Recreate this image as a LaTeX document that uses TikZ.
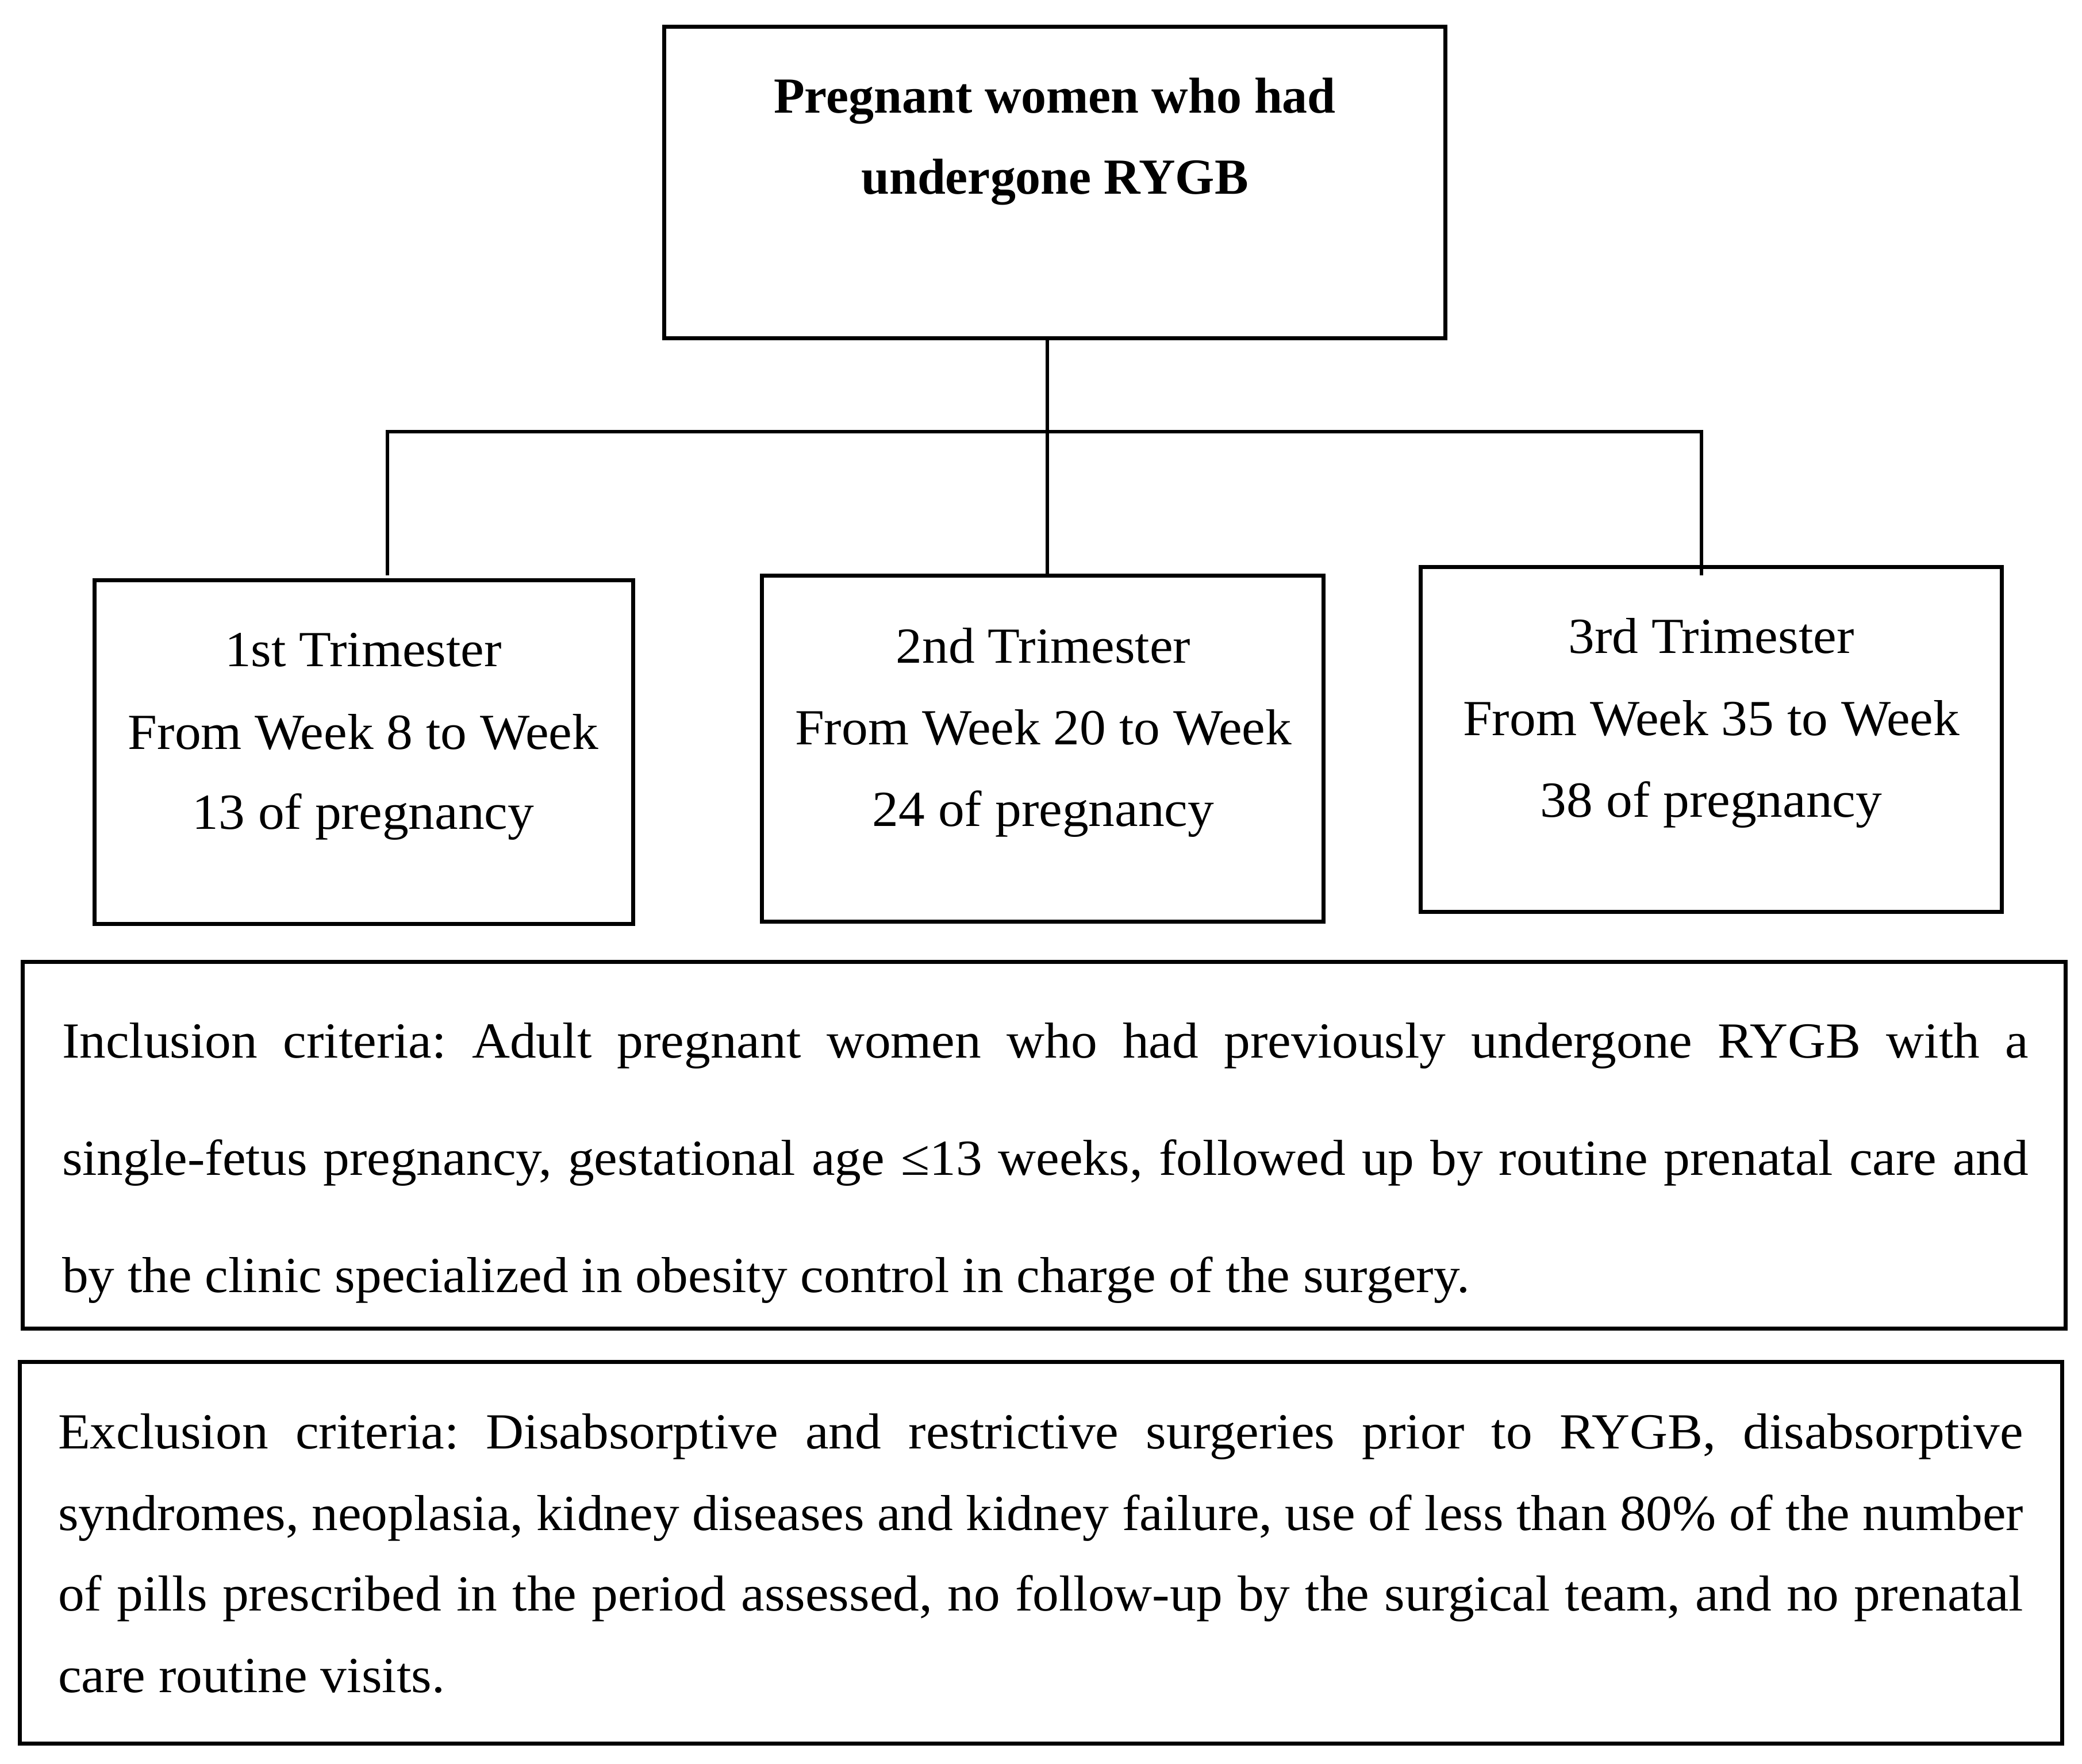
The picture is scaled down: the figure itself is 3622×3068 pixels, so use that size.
\documentclass[tikz,border=0pt]{standalone}
\usepackage{fontspec}
\setmainfont[FakeStretch=1.04]{Liberation Serif}
\newfontfamily\titlefont{Liberation Serif}
\tikzset{
  box/.style={draw, line width=2pt, inner sep=0pt, outer sep=0pt},
  txt/.style={inner sep=0pt, outer sep=0pt, font=\fontsize{25}{30}\selectfont\frenchspacing},
  ttl/.style={inner sep=0pt, outer sep=0pt, font=\fontsize{25}{30}\selectfont\titlefont\bfseries},
  ln/.style={line width=1.6pt},
}
\begin{document}
\begin{tikzpicture}[x=0.01cm,y=-0.01cm]
\useasboundingbox (0,0) rectangle (3622,3068);
% boxes
\node[box, minimum width=13.585cm, minimum height=5.41cm] (top) at (1834.75,317.5) {};
\node[box, minimum width=9.36cm, minimum height=5.97cm] (b1) at (633,1308.5) {};
\node[box, minimum width=9.76cm, minimum height=6.01cm] (b2) at (1814,1302.5) {};
\node[box, minimum width=10.10cm, minimum height=5.99cm] (b3) at (2977,1286.5) {};
\node[box, minimum width=35.51cm, minimum height=6.37cm] (inc) at (1816.5,1992.5) {};
\node[box, minimum width=35.50cm, minimum height=6.63cm] (exc) at (1811,2701.5) {};
% title text
\node[ttl, anchor=base] (t1) at (1835,196) {Pregnant women who had};
\node[ttl, anchor=base] (t2) at (1835,337) {undergone RYGB};
% trimester texts
\node[txt, anchor=base] (a1) at (632,1159) {1st Trimester};
\node[txt, anchor=base] (a2) at (632,1303) {From Week 8 to Week};
\node[txt, anchor=base] (a3) at (632,1442) {13 of pregnancy};
\node[txt, anchor=base] (c1) at (1815,1153) {2nd Trimester};
\node[txt, anchor=base] (c2) at (1815,1295) {From Week 20 to Week};
\node[txt, anchor=base] (c3) at (1815,1437) {24 of pregnancy};
\node[txt, anchor=base] (d1) at (2977,1136) {3rd Trimester};
\node[txt, anchor=base] (d2) at (2977,1279) {From Week 35 to Week};
\node[txt, anchor=base] (d3) at (2977,1421) {38 of pregnancy};
% inclusion
\node[txt, anchor=base west] (i1) at (108,1840) {\makebox[34.19cm][s]{Inclusion criteria: Adult pregnant women who had previously undergone RYGB with a}};
\node[txt, anchor=base west] (i2) at (108,2044) {\makebox[34.19cm][s]{single-fetus pregnancy, gestational age ≤13 weeks, followed up by routine prenatal care and}};
\node[txt, anchor=base west] (i3) at (108,2248) {by the clinic specialized in obesity control in charge of the surgery.};
% exclusion
\node[txt, anchor=base west] (e1) at (101,2520) {\makebox[34.17cm][s]{Exclusion criteria: Disabsorptive and restrictive surgeries prior to RYGB, disabsorptive}};
\node[txt, anchor=base west] (e2) at (101,2662) {\makebox[34.17cm][s]{syndromes, neoplasia, kidney diseases and kidney failure, use of less than 80\% of the number}};
\node[txt, anchor=base west] (e3) at (101,2802) {\makebox[34.17cm][s]{of pills prescribed in the period assessed, no follow-up by the surgical team, and no prenatal}};
\node[txt, anchor=base west] (e4) at (101,2944) {care routine visits.};
% connectors
\coordinate (j) at (1822,751);
\coordinate (jl) at (674,751);
\coordinate (jr) at (2960,751);
\coordinate (el) at (674,1001);
\coordinate (er) at (2960,1001);
\draw[ln] (top.south -| j) -- (j |- b2.north);
\draw[ln] (el) -- (jl) -- (jr) -- (er);
\end{tikzpicture}
\end{document}
